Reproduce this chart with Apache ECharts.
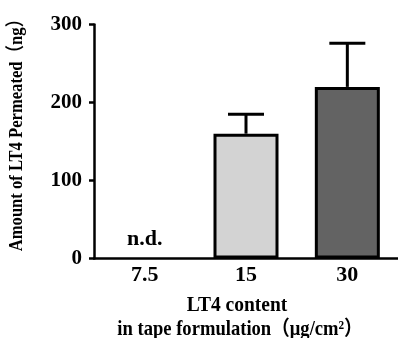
<!DOCTYPE html>
<html><head><meta charset="utf-8">
<script src="https://cdn.jsdelivr.net/npm/echarts@6/dist/echarts.min.js"></script>
<style>html,body{margin:0;padding:0;background:#fff}#c{width:398px;height:338px}</style>
</head><body><div id="c"></div>
<script>
const categories = ['7.5', '15', '30'];
const means = [0, 160, 220];
const errors = [0, 25, 56];
const barColors = ['#ffffff', '#d3d3d3', '#636363'];
const barLabels = ['n.d.', '', ''];
const yTicks = [0, 100, 200, 300];

const FONT = '"Liberation Serif", "Times New Roman", "Noto Sans CJK SC", serif';
const chart = echarts.init(document.getElementById('c'));
chart.setOption({
  animation: false,
  grid: { left: 94, right: 0, top: 24.5, bottom: 79.5 },
  xAxis: {
    type: 'category', data: categories,
    axisLine: { lineStyle: { color: '#000', width: 2.5 } },
    axisTick: { alignWithLabel: true, length: 5, lineStyle: { color: '#000', width: 2.5 } },
    axisLabel: { color: '#000', fontFamily: FONT, fontWeight: 'bold', fontSize: 22, margin: 6 }
  },
  yAxis: {
    type: 'value', min: yTicks[0], max: yTicks[yTicks.length - 1], interval: 100,
    splitLine: { show: false },
    axisLine: { show: true, lineStyle: { color: '#000', width: 2.5 } },
    axisTick: { show: true, length: 5, lineStyle: { color: '#000', width: 2.5 } },
    axisLabel: { color: '#000', fontFamily: FONT, fontWeight: 'bold', fontSize: 21, margin: 12 }
  },
  graphic: [
    { type: 'text', style: { text: 'Amount of LT4 Permeated（ng）', font: 'bold 16.6px ' + FONT, fill: '#000', textAlign: 'center', textVerticalAlign: 'middle' }, x: 17, y: 131, rotation: Math.PI / 2, scaleY: 1.15 },
    { type: 'text', style: { text: 'LT4 content', font: 'bold 19.5px ' + FONT, fill: '#000', textAlign: 'center', textVerticalAlign: 'middle' }, x: 237, y: 305, scaleY: 1.1 },
    { type: 'text', style: { text: 'in tape formulation（μg/cm²）', font: 'bold 18.6px ' + FONT, fill: '#000', textAlign: 'center', textVerticalAlign: 'middle' }, x: 240, y: 330, scaleY: 1.1 }
  ],
  series: [
    {
      type: 'bar', barWidth: 65,
      data: means.map((v, i) => ({
        value: v,
        itemStyle: { color: barColors[i], borderColor: '#000', borderWidth: v > 0 ? 3 : 0 },
        label: { show: barLabels[i] !== '', formatter: barLabels[i], position: 'top', distance: 8,
                 color: '#000', fontFamily: FONT, fontWeight: 'bold', fontSize: 22 }
      }))
    },
    {
      type: 'custom', z: 1,
      data: means.map((v, i) => [i, v, v + errors[i]]),
      renderItem: function (params, api) {
        if (api.value(2) <= api.value(1)) return null;
        const b = api.coord([api.value(0), api.value(1)]);
        const t = api.coord([api.value(0), api.value(2)]);
        const s = { stroke: '#000', lineWidth: 3 };
        return { type: 'group', children: [
          { type: 'line', shape: { x1: b[0], y1: b[1], x2: t[0], y2: t[1] }, style: s },
          { type: 'line', shape: { x1: t[0] - 18, y1: t[1], x2: t[0] + 18, y2: t[1] }, style: s }
        ] };
      }
    }
  ]
});
</script></body></html>
